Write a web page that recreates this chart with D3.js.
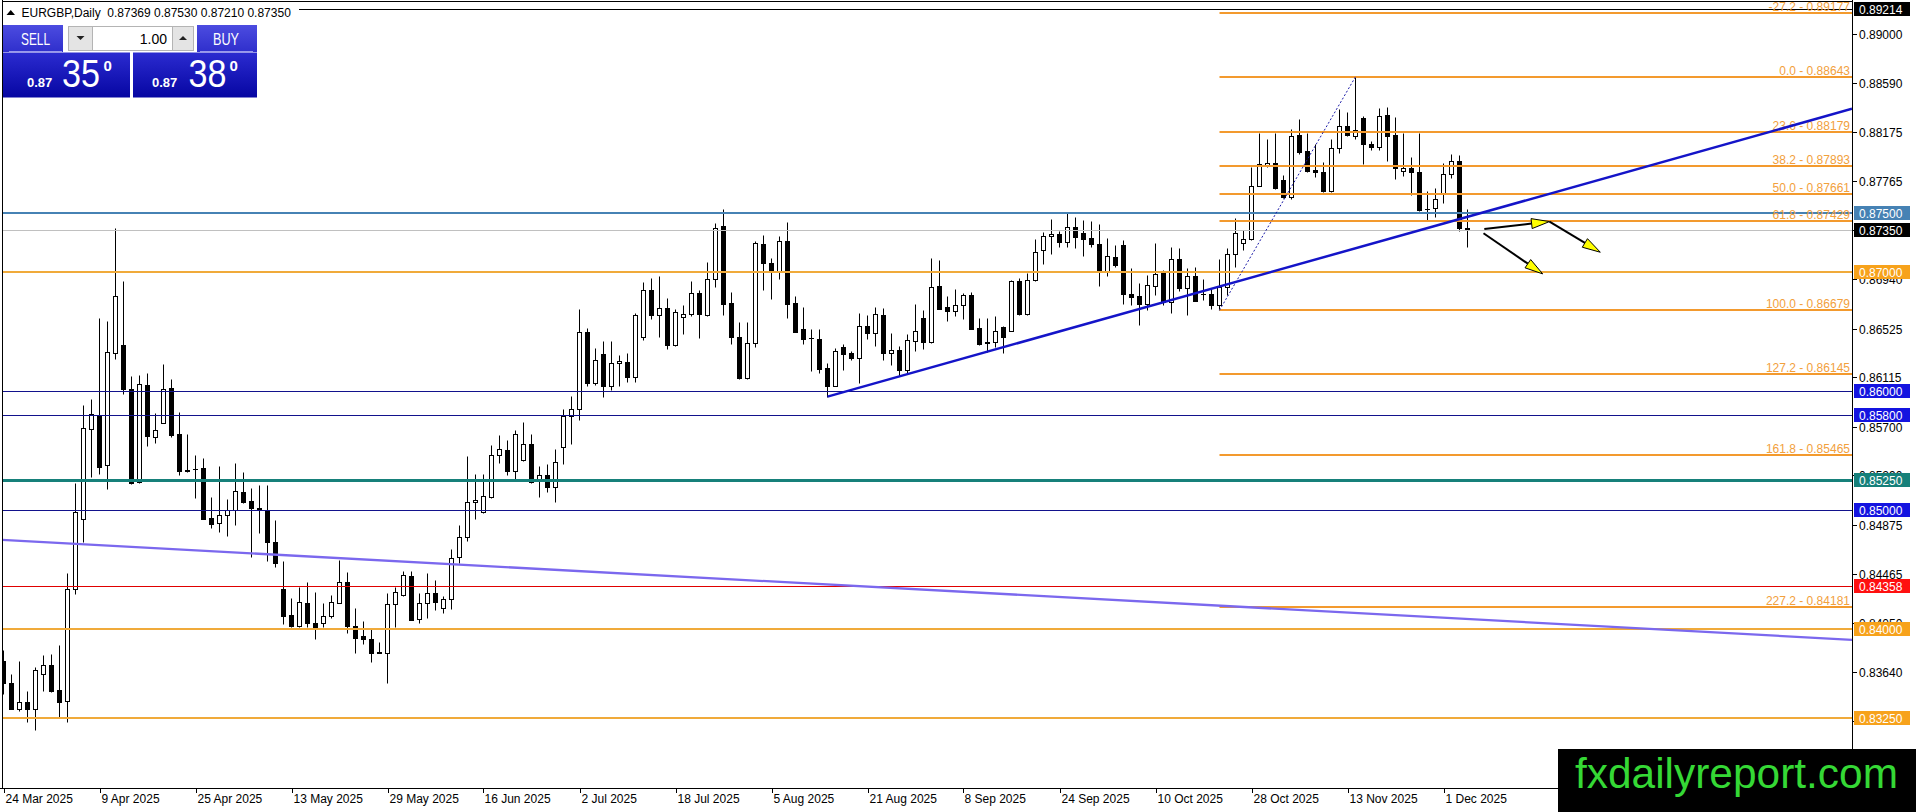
<!DOCTYPE html>
<html><head><meta charset="utf-8">
<script src="https://cdnjs.cloudflare.com/ajax/libs/d3/7.8.5/d3.min.js"></script>
<style>
html,body{margin:0;padding:0;background:#fff;overflow:hidden}
svg{display:block}
text{font-family:"Liberation Sans",Arial,sans-serif}
</style></head><body>
<svg id="c" width="1916" height="812"></svg>
<script>
// ---------------- DATA ----------------
const symbolTitle = "EURGBP,Daily";
const lastOHLC = ["0.87369","0.87530","0.87210","0.87350"];
const open = [0.83733,0.83548,0.83329,0.83385,0.83329,0.83618,0.83696,0.83486,0.83391,0.84336,
0.84922,0.85679,0.85799,0.85376,0.86323,0.86388,0.86015,0.85233,0.86054,0.85616,
0.85730,0.86024,0.85638,0.85338,0.85347,0.85352,0.84930,0.84886,0.84961,0.85003,
0.85147,0.85076,0.85014,0.84998,0.84728,0.84336,0.84114,0.84026,0.84215,0.84047,
0.84047,0.84105,0.84220,0.84394,0.84026,0.83940,0.83913,0.83805,0.83799,0.84207,
0.84283,0.84442,0.84081,0.84215,0.84299,0.84173,0.84249,0.84602,0.84770,0.85065,
0.84983,0.85112,0.85461,0.85505,0.85331,0.85420,0.85552,0.85260,0.85291,0.85196,
0.85533,0.85793,0.85847,0.86494,0.86070,0.86312,0.86045,0.86239,0.86242,0.86121,
0.86452,0.86850,0.86642,0.86696,0.86388,0.86621,0.86646,0.86822,0.86642,0.86940,
0.87386,0.86738,0.86455,0.86112,0.86402,0.87239,0.87077,0.87010,0.87260,0.86741,
0.86522,0.86446,0.86438,0.86192,0.86045,0.86373,0.86318,0.86281,0.86547,0.86491,
0.86640,0.86323,0.86343,0.86177,0.86424,0.86613,0.86415,0.86884,0.86705,0.86676,
0.86721,0.86806,0.86531,0.86407,0.86415,0.86536,0.86508,0.86923,0.86651,0.86932,
0.87184,0.87302,0.87318,0.87251,0.87377,0.87327,0.87285,0.87235,0.87004,0.87125,
0.87229,0.86816,0.86800,0.86735,0.86886,0.87004,0.86747,0.87108,0.86865,0.86968,
0.86816,0.86816,0.86722,0.86873,0.87150,0.87243,0.87276,0.87727,0.87901,0.87916,
0.87775,0.87630,0.88154,0.88019,0.87857,0.87840,0.87683,0.88042,0.88232,0.88148,
0.88294,0.88080,0.88055,0.88322,0.88154,0.87853,0.87874,0.87840,0.87531,0.87543,
0.87655,0.87823,0.87937,0.87369];
const high = [0.83822,0.83621,0.83730,0.83478,0.83682,0.83780,0.83786,0.83867,0.84468,0.85225,
0.85883,0.85933,0.86615,0.86590,0.87372,0.86926,0.86127,0.86136,0.86152,0.85815,
0.86228,0.86102,0.85821,0.85638,0.85462,0.85437,0.85107,0.85368,0.85090,0.85393,
0.85315,0.85183,0.85210,0.85210,0.84913,0.84571,0.84260,0.84355,0.84397,0.84308,
0.84215,0.84285,0.84580,0.84478,0.84173,0.84069,0.84005,0.83887,0.84299,0.84350,
0.84487,0.84487,0.84299,0.84468,0.84409,0.84277,0.84669,0.84871,0.85451,0.85303,
0.85303,0.85545,0.85629,0.85587,0.85673,0.85741,0.85636,0.85367,0.85384,0.85510,
0.85847,0.85959,0.86688,0.86533,0.86360,0.86421,0.86421,0.86304,0.86323,0.86659,
0.86917,0.86949,0.86968,0.86780,0.86693,0.86721,0.86926,0.86850,0.87086,0.87416,
0.87529,0.86836,0.86578,0.86578,0.87260,0.87315,0.87119,0.87304,0.87422,0.86802,
0.86705,0.86525,0.86525,0.86234,0.86365,0.86396,0.86337,0.86654,0.86640,0.86705,
0.86699,0.86486,0.86382,0.86477,0.86730,0.86680,0.87117,0.87102,0.86797,0.86856,
0.86825,0.86831,0.86615,0.86612,0.86634,0.86547,0.86930,0.86949,0.86991,0.87279,
0.87335,0.87447,0.87346,0.87495,0.87466,0.87439,0.87433,0.87403,0.87288,0.87229,
0.87273,0.87035,0.86911,0.86976,0.87243,0.87018,0.87214,0.87201,0.87033,0.87046,
0.86940,0.86864,0.87108,0.87201,0.87453,0.87355,0.87887,0.88168,0.88120,0.88168,
0.87817,0.88202,0.88288,0.88168,0.88075,0.87929,0.88120,0.88370,0.88350,0.88643,
0.88316,0.88103,0.88383,0.88387,0.88308,0.88168,0.87971,0.88168,0.87683,0.87710,
0.87916,0.87996,0.87985,0.87530];
const low = [0.83452,0.83324,0.83312,0.83220,0.83145,0.83480,0.83472,0.83249,0.83220,0.84291,
0.84733,0.85280,0.85300,0.85176,0.86272,0.85973,0.85219,0.85227,0.85540,0.85566,
0.85728,0.85616,0.85296,0.85321,0.85098,0.84922,0.84849,0.84810,0.84782,0.84876,
0.85059,0.84607,0.84806,0.84574,0.84518,0.84041,0.84018,0.84018,0.84018,0.83918,
0.84018,0.84089,0.84215,0.83963,0.83794,0.83873,0.83719,0.83794,0.83548,0.84018,
0.84280,0.84070,0.84052,0.84095,0.84159,0.84131,0.84165,0.84552,0.84742,0.84922,
0.84978,0.85104,0.85398,0.85295,0.85263,0.85409,0.85228,0.85112,0.85154,0.85070,
0.85384,0.85558,0.85757,0.86045,0.86054,0.85953,0.86012,0.86045,0.86079,0.86079,
0.86430,0.86604,0.86457,0.86354,0.86382,0.86480,0.86634,0.86449,0.86632,0.86878,
0.86640,0.86396,0.86099,0.86099,0.86373,0.86850,0.86774,0.86945,0.86617,0.86495,
0.86396,0.86171,0.86155,0.85953,0.86040,0.86177,0.86262,0.86070,0.86441,0.86382,
0.86264,0.86219,0.86130,0.86149,0.86340,0.86351,0.86403,0.86688,0.86589,0.86634,
0.86609,0.86520,0.86390,0.86331,0.86373,0.86318,0.86501,0.86640,0.86640,0.86926,
0.87069,0.87155,0.87214,0.87214,0.87201,0.87139,0.87214,0.86884,0.86971,0.87046,
0.86730,0.86724,0.86556,0.86682,0.86808,0.86724,0.86654,0.86842,0.86640,0.86758,
0.86766,0.86690,0.86679,0.86808,0.87044,0.87186,0.87270,0.87720,0.87887,0.87697,
0.87621,0.87613,0.87991,0.87845,0.87800,0.87677,0.87677,0.88005,0.88145,0.88120,
0.87912,0.88027,0.88027,0.87935,0.87784,0.87809,0.87649,0.87518,0.87439,0.87467,
0.87584,0.87795,0.87349,0.87210];
const close = [0.83542,0.83329,0.83383,0.83324,0.83654,0.83696,0.83478,0.83383,0.84336,0.84981,
0.85687,0.85808,0.85364,0.86326,0.86797,0.86020,0.85225,0.86057,0.85624,0.85669,
0.86015,0.85630,0.85330,0.85330,0.85340,0.84927,0.84880,0.84961,0.85003,0.85155,
0.85070,0.85014,0.85000,0.84728,0.84552,0.84111,0.84026,0.84224,0.84047,0.84018,
0.84105,0.84224,0.84394,0.84026,0.83926,0.83918,0.83800,0.83799,0.84207,0.84308,
0.84451,0.84075,0.84215,0.84299,0.84224,0.84251,0.84599,0.84770,0.85065,0.85082,
0.85116,0.85461,0.85511,0.85331,0.85637,0.85552,0.85232,0.85291,0.85196,0.85401,
0.85793,0.85847,0.86494,0.86070,0.86259,0.86045,0.86236,0.86250,0.86121,0.86637,
0.86850,0.86642,0.86696,0.86388,0.86668,0.86646,0.86822,0.86648,0.86940,0.87369,
0.86735,0.86452,0.86112,0.86402,0.87245,0.87075,0.87010,0.87260,0.86735,0.86499,
0.86441,0.86443,0.86183,0.86045,0.86337,0.86312,0.86281,0.86547,0.86491,0.86646,
0.86323,0.86343,0.86177,0.86427,0.86502,0.86415,0.86873,0.86693,0.86676,0.86721,
0.86806,0.86525,0.86396,0.86409,0.86508,0.86455,0.86926,0.86651,0.86932,0.87167,
0.87302,0.87318,0.87251,0.87377,0.87293,0.87282,0.87235,0.87010,0.87134,0.87061,
0.86814,0.86794,0.86735,0.86892,0.86982,0.86747,0.87108,0.86865,0.86971,0.86760,
0.86814,0.86722,0.86873,0.87150,0.87327,0.87276,0.87727,0.87910,0.87916,0.87710,
0.87630,0.88145,0.88013,0.87853,0.87840,0.87683,0.88042,0.88232,0.88154,0.88196,
0.88080,0.88055,0.88316,0.88148,0.87874,0.87874,0.87840,0.87523,0.87530,0.87618,
0.87823,0.87937,0.87369,0.87350];

const xTickLabels = ["24 Mar 2025","9 Apr 2025","25 Apr 2025","13 May 2025","29 May 2025","16 Jun 2025",
"2 Jul 2025","18 Jul 2025","5 Aug 2025","21 Aug 2025","8 Sep 2025","24 Sep 2025","10 Oct 2025",
"28 Oct 2025","13 Nov 2025","1 Dec 2025"];
const barsPerXTick = 12;
const priceTicks = ["0.89000","0.88590","0.88175","0.87765","0.87350","0.86940","0.86525","0.86115",
"0.85700","0.85290","0.84875","0.84465","0.84050","0.83640","0.83225"];

const levelPrices = [0.89214,0.87500,0.87350,0.87000,0.86000,0.85800,0.85250,0.85000,0.84358,0.84000,0.83250];
const levelKinds  = ["black","steel","bid","orange","blue","blue","teal","blue","red","orange","orange"];

const fibRatios = [-27.2,0.0,23.6,38.2,50.0,61.8,100.0,127.2,161.8,227.2];
const fibLowIndex = 152, fibLowPrice = 0.86679;
const fibHighIndex = 169, fibHighPrice = 0.88643;

const blueTrendIdx = [103,183];
const blueTrendPrice = [0.85953,0.87465];
const purpleTrendIdx = [0,183];
const purpleTrendPrice = [0.84747,0.84082];

const arrowFromIdx = [185.1,193.25,185.0];
const arrowFromPrice = [0.87363,0.87425,0.87327];
const arrowToIdx = [193.25,199.6,192.4];
const arrowToPrice = [0.87425,0.87167,0.86985];

const sellPrice = ["0.87","35","0"];
const buyPrice = ["0.87","38","0"];
const lotSize = "1.00";
const logoText = "fxdailyreport.com";

// ---------------- LAYOUT ----------------
const W = 1916, H = 812;
const plotL = 2, plotR = 1852, plotT = 1, plotB = 788;
const svg = d3.select("#c");

const x = d3.scaleLinear().domain([0, 183]).range([3.5, 3.5 + 8 * 183]);
const y = d3.scaleLinear().domain([0.89, 0.83]).range([34.3, 747.7]);
const py = p => Math.round(y(p)) + 0.5;
const pyI = p => Math.round(y(p));

svg.append("rect").attr("width", W).attr("height", H).attr("fill", "#fff");

svg.append("defs").append("clipPath").attr("id", "plot")
  .append("rect").attr("x", plotL).attr("y", plotT).attr("width", plotR - plotL).attr("height", plotB - plotT);

const plot = svg.append("g").attr("clip-path", "url(#plot)");

// ---- candles ----
const bars = d3.range(open.length).map(i => ({i, o: open[i], h: high[i], l: low[i], c: close[i]}));
const cg = plot.append("g");
cg.selectAll("line.wick").data(bars).join("line")
  .attr("x1", d => x(d.i)).attr("x2", d => x(d.i))
  .attr("y1", d => py(d.h)).attr("y2", d => py(d.l))
  .attr("stroke", "#000").attr("stroke-width", 1);
bars.forEach(d => {
  const top = py(Math.max(d.o, d.c)), bot = py(Math.min(d.o, d.c));
  const cx = x(d.i);
  if (bot - top < 1) {
    cg.append("line").attr("x1", cx - 2.5).attr("x2", cx + 2.5).attr("y1", top).attr("y2", top)
      .attr("stroke", "#000").attr("stroke-width", 1);
  } else {
    cg.append("rect").attr("x", cx - 2).attr("y", top).attr("width", 4).attr("height", bot - top)
      .attr("fill", d.c >= d.o ? "#fff" : "#000").attr("stroke", "#000").attr("stroke-width", 1);
  }
});

// ---- horizontal levels ----
const kindStyle = {
  black:  {line: "#000000", w: 1, bg: "#000000"},
  steel:  {line: "#4682b4", w: 2, bg: "#4682b4"},
  bid:    {line: "#c0c0c0", w: 1, bg: "#000000"},
  orange: {line: "#f0aa3a", w: 2, bg: "#f7a21b"},
  blue:   {line: "#12128c", w: 1, bg: "#1414e0"},
  teal:   {line: "#16807a", w: 3, bg: "#16807a"},
  red:    {line: "#e00000", w: 1, bg: "#ff1010"}
};
levelPrices.forEach((p, k) => {
  const s = kindStyle[levelKinds[k]];
  const yy = s.w % 2 ? py(p) : pyI(p);
  plot.append("line").attr("x1", plotL).attr("x2", plotR).attr("y1", yy).attr("y2", yy)
    .attr("stroke", s.line).attr("stroke-width", s.w);
});

// ---- fibonacci ----
const fibColor = "#f39a2e";
const fibRange = fibHighPrice - fibLowPrice;
fibRatios.forEach(r => {
  const p = fibHighPrice - r / 100 * fibRange;
  const yy = pyI(p);
  plot.append("line").attr("x1", x(fibLowIndex)).attr("x2", plotR).attr("y1", yy).attr("y2", yy)
    .attr("stroke", fibColor).attr("stroke-width", 2);
  plot.append("text").attr("x", plotR - 2).attr("y", yy - 2.5).attr("text-anchor", "end")
    .attr("font-size", 12).attr("fill", "#f2a03c")
    .text(r.toFixed(1) + " - " + p.toFixed(5));
});
plot.append("line")
  .attr("x1", x(fibLowIndex)).attr("y1", y(fibLowPrice))
  .attr("x2", x(fibHighIndex)).attr("y2", y(fibHighPrice))
  .attr("stroke", "#1a1aa8").attr("stroke-width", 1).attr("stroke-dasharray", "2,2");

// ---- trend lines ----
function extend(idx, pr, fromX, toX) {
  const slope = (pr[1] - pr[0]) / (idx[1] - idx[0]);
  const i0 = x.invert(fromX), i1 = x.invert(toX);
  return [[fromX, y(pr[0] + (i0 - idx[0]) * slope)], [toX, y(pr[0] + (i1 - idx[0]) * slope)]];
}
const pt = extend(purpleTrendIdx, purpleTrendPrice, plotL, plotR);
plot.append("line").attr("x1", pt[0][0]).attr("y1", pt[0][1]).attr("x2", pt[1][0]).attr("y2", pt[1][1])
  .attr("stroke", "#7b68ee").attr("stroke-width", 2.3);
const bt = extend(blueTrendIdx, blueTrendPrice, x(blueTrendIdx[0]), plotR);
plot.append("line").attr("x1", bt[0][0]).attr("y1", bt[0][1]).attr("x2", bt[1][0]).attr("y2", bt[1][1])
  .attr("stroke", "#1414c8").attr("stroke-width", 2.5);

// ---- arrows ----
arrowFromIdx.forEach((_, k) => {
  const x1 = x(arrowFromIdx[k]), y1 = y(arrowFromPrice[k]);
  const x2 = x(arrowToIdx[k]), y2 = y(arrowToPrice[k]);
  const len = Math.hypot(x2 - x1, y2 - y1), ux = (x2 - x1) / len, uy = (y2 - y1) / len;
  const L = 18, Wd = 5;
  const bx = x2 - ux * L, by = y2 - uy * L;
  plot.append("line").attr("x1", x1).attr("y1", y1).attr("x2", bx).attr("y2", by)
    .attr("stroke", "#000").attr("stroke-width", 2);
  plot.append("path")
    .attr("d", `M${x2},${y2}L${bx - uy * Wd},${by + ux * Wd}L${bx + uy * Wd},${by - ux * Wd}Z`)
    .attr("fill", "#ffff00").attr("stroke", "#000").attr("stroke-width", 1);
});

// ---- frame & axes ----
svg.append("line").attr("x1", plotL + 0.5).attr("x2", plotL + 0.5).attr("y1", 0).attr("y2", plotB).attr("stroke", "#000");
svg.append("line").attr("x1", plotL).attr("x2", plotR).attr("y1", 1.5).attr("y2", 1.5).attr("stroke", "#000");
svg.append("line").attr("x1", plotR + 0.5).attr("x2", plotR + 0.5).attr("y1", 0).attr("y2", plotB + 1).attr("stroke", "#000");
svg.append("line").attr("x1", 0).attr("x2", plotR + 1).attr("y1", plotB + 0.5).attr("y2", plotB + 0.5).attr("stroke", "#000");

// right price ticks (labels fully hidden under a level label are not drawn, as in the reference)
const tg = svg.append("g");
priceTicks.forEach(t => {
  const yy = py(+t);
  tg.append("line").attr("x1", plotR).attr("x2", plotR + 5).attr("y1", yy).attr("y2", yy).attr("stroke", "#000");
  const covered = levelPrices.some(p => Math.abs(y(p) - y(+t)) < 4);
  if (!covered)
    tg.append("text").attr("x", 1859).attr("y", yy + 4.5).attr("font-size", 12).attr("fill", "#000").text(t);
});
// level labels
levelPrices.forEach((p, k) => {
  const s = kindStyle[levelKinds[k]];
  const yy = y(p);
  svg.append("rect").attr("x", 1854).attr("y", Math.round(yy) - 7).attr("width", 56).attr("height", 14).attr("fill", s.bg);
  svg.append("text").attr("x", 1859).attr("y", Math.round(yy) + 4.5).attr("font-size", 12).attr("fill", "#fff")
    .text(p.toFixed(5));
});

// bottom time labels
xTickLabels.forEach((t, k) => {
  const xx = Math.round(x(k * barsPerXTick)) + 0.5;
  svg.append("line").attr("x1", xx).attr("x2", xx).attr("y1", plotB).attr("y2", plotB + 5).attr("stroke", "#000");
  svg.append("text").attr("x", xx + 1).attr("y", 803).attr("font-size", 12).attr("fill", "#000").text(t);
});

// ---- title ----
svg.append("rect").attr("x", 3).attr("y", 3).attr("width", 296).attr("height", 16).attr("fill", "#fff");
svg.append("path").attr("d", "M6.5,15L15,15L10.75,10Z").attr("fill", "#000");
svg.append("text").attr("x", 21.5).attr("y", 16.5).attr("font-size", 12).attr("fill", "#000")
  .attr("xml:space", "preserve")
  .text(symbolTitle + "  " + lastOHLC.join(" "));

// ---- one click trading panel ----
const defs = svg.select("defs");
const g1 = defs.append("linearGradient").attr("id", "hdr").attr("x1", 0).attr("x2", 0).attr("y1", 0).attr("y2", 1);
g1.append("stop").attr("offset", "0").attr("stop-color", "#4c4ce0");
g1.append("stop").attr("offset", "1").attr("stop-color", "#2f2fcc");
const g2 = defs.append("linearGradient").attr("id", "prc").attr("x1", 0).attr("x2", 0).attr("y1", 0).attr("y2", 1);
g2.append("stop").attr("offset", "0").attr("stop-color", "#2b2bd0");
g2.append("stop").attr("offset", "1").attr("stop-color", "#0606a2");

const pn = svg.append("g");
pn.append("rect").attr("x", 3).attr("y", 25).attr("width", 60).attr("height", 27).attr("fill", "url(#hdr)");
pn.append("line").attr("x1", 9).attr("x2", 62).attr("y1", 51.5).attr("y2", 51.5).attr("stroke", "#9a9aee");
pn.append("text").attr("x", 21).attr("y", 45).attr("font-size", 17).attr("fill", "#fff")
  .attr("textLength", 29).attr("lengthAdjust", "spacingAndGlyphs").text("SELL");
pn.append("rect").attr("x", 197).attr("y", 25).attr("width", 60).attr("height", 27).attr("fill", "url(#hdr)");
pn.append("line").attr("x1", 200).attr("x2", 253).attr("y1", 51.5).attr("y2", 51.5).attr("stroke", "#9a9aee");
pn.append("text").attr("x", 213).attr("y", 45).attr("font-size", 17).attr("fill", "#fff")
  .attr("textLength", 26).attr("lengthAdjust", "spacingAndGlyphs").text("BUY");
pn.append("rect").attr("x", 68.5).attr("y", 26.5).attr("width", 24).attr("height", 24).attr("fill", "#e4e4e4").attr("stroke", "#b4b4b4");
pn.append("path").attr("d", "M76.5,36L84.5,36L80.5,40Z").attr("fill", "#222");
pn.append("rect").attr("x", 92.5).attr("y", 26.5).attr("width", 80).attr("height", 24).attr("fill", "#fff").attr("stroke", "#b4b4b4");
pn.append("text").attr("x", 167).attr("y", 44).attr("font-size", 14).attr("text-anchor", "end").attr("fill", "#000").text(lotSize);
pn.append("rect").attr("x", 172.5).attr("y", 26.5).attr("width", 21).attr("height", 24).attr("fill", "#e4e4e4").attr("stroke", "#b4b4b4");
pn.append("path").attr("d", "M179,40L187,40L183,36Z").attr("fill", "#222");
function priceBox(x0, w, parts, xs) {
  pn.append("rect").attr("x", x0).attr("y", 52.5).attr("width", w).attr("height", 45).attr("fill", "url(#prc)");
  pn.append("text").attr("x", xs[0]).attr("y", 87).attr("font-size", 13).attr("font-weight", "bold").attr("fill", "#fff").text(parts[0]);
  pn.append("text").attr("x", xs[1]).attr("y", 87).attr("font-size", 38).attr("fill", "#fff")
    .attr("textLength", 38).attr("lengthAdjust", "spacingAndGlyphs").text(parts[1]);
  pn.append("text").attr("x", xs[2]).attr("y", 71).attr("font-size", 15).attr("font-weight", "bold").attr("fill", "#fff").text(parts[2]);
}
priceBox(3, 127, sellPrice, [27, 62, 103.5]);
priceBox(133, 124, buyPrice, [152, 188.5, 229.5]);

// ---- logo ----
svg.append("rect").attr("x", 1558).attr("y", 749).attr("width", 358).attr("height", 63).attr("fill", "#000");
svg.append("text").attr("x", 1575).attr("y", 788).attr("font-size", 42).attr("fill", "#35d835")
  .attr("textLength", 323).attr("lengthAdjust", "spacingAndGlyphs").text(logoText);
</script>
</body></html>
